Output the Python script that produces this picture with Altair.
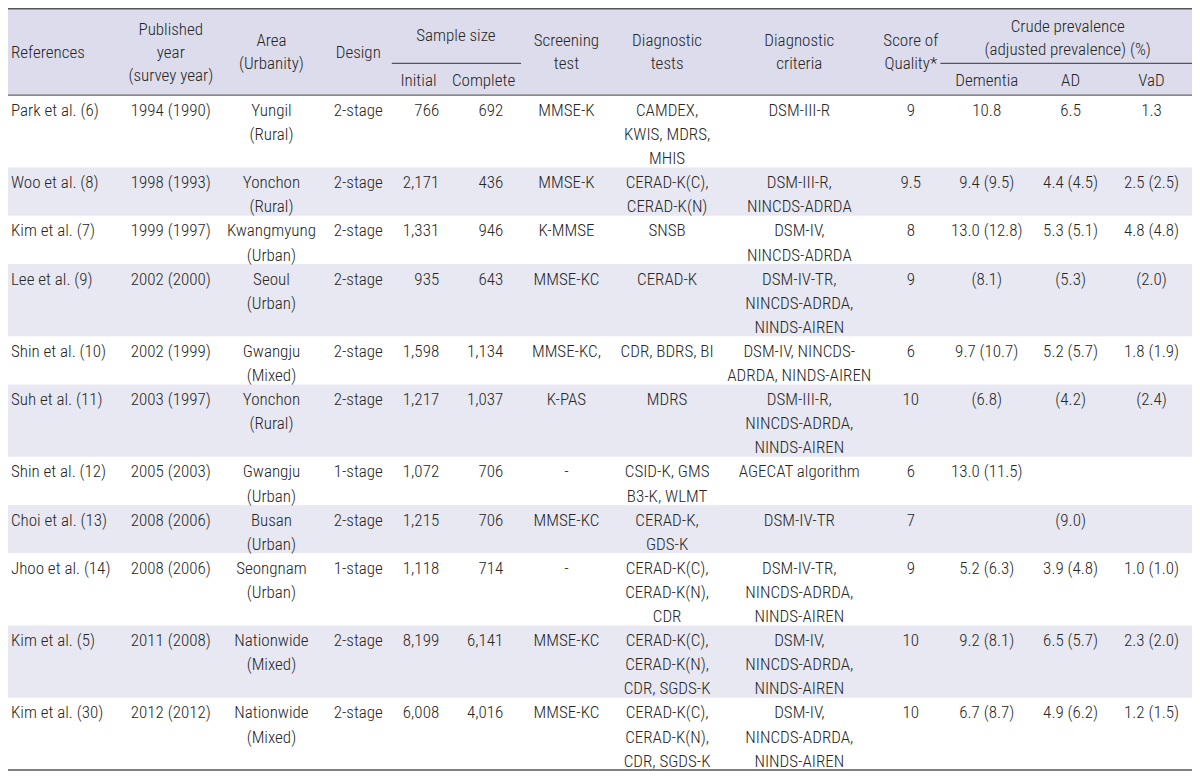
import altair as alt
import pandas as pd

# ---------------- data ----------------
references = ["Park et al. (6)", "Woo et al. (8)", "Kim et al. (7)", "Lee et al. (9)",
              "Shin et al. (10)", "Suh et al. (11)", "Shin et al. (12)", "Choi et al. (13)",
              "Jhoo et al. (14)", "Kim et al. (5)", "Kim et al. (30)"]
published = ["1994 (1990)", "1998 (1993)", "1999 (1997)", "2002 (2000)", "2002 (1999)",
             "2003 (1997)", "2005 (2003)", "2008 (2006)", "2008 (2006)", "2011 (2008)",
             "2012 (2012)"]
area = ["Yungil\n(Rural)", "Yonchon\n(Rural)", "Kwangmyung\n(Urban)", "Seoul\n(Urban)",
        "Gwangju\n(Mixed)", "Yonchon\n(Rural)", "Gwangju\n(Urban)", "Busan\n(Urban)",
        "Seongnam\n(Urban)", "Nationwide\n(Mixed)", "Nationwide\n(Mixed)"]
design = ["2-stage", "2-stage", "2-stage", "2-stage", "2-stage", "2-stage", "1-stage",
          "2-stage", "1-stage", "2-stage", "2-stage"]
initial = ["766", "2,171", "1,331", "935", "1,598", "1,217", "1,072", "1,215", "1,118",
           "8,199", "6,008"]
complete = ["692", "436", "946", "643", "1,134", "1,037", "706", "706", "714", "6,141",
            "4,016"]
screening = ["MMSE-K", "MMSE-K", "K-MMSE", "MMSE-KC", "MMSE-KC,", "K-PAS", "-", "MMSE-KC",
             "-", "MMSE-KC", "MMSE-KC"]
diag_tests = ["CAMDEX,\nKWIS, MDRS,\nMHIS", "CERAD-K(C),\nCERAD-K(N)", "SNSB", "CERAD-K",
              "CDR, BDRS, BI", "MDRS", "CSID-K, GMS\nB3-K, WLMT", "CERAD-K,\nGDS-K",
              "CERAD-K(C),\nCERAD-K(N),\nCDR", "CERAD-K(C),\nCERAD-K(N),\nCDR, SGDS-K",
              "CERAD-K(C),\nCERAD-K(N),\nCDR, SGDS-K"]
diag_criteria = ["DSM-III-R", "DSM-III-R,\nNINCDS-ADRDA", "DSM-IV,\nNINCDS-ADRDA",
                 "DSM-IV-TR,\nNINCDS-ADRDA,\nNINDS-AIREN",
                 "DSM-IV, NINCDS-\nADRDA, NINDS-AIREN",
                 "DSM-III-R,\nNINCDS-ADRDA,\nNINDS-AIREN", "AGECAT algorithm", "DSM-IV-TR",
                 "DSM-IV-TR,\nNINCDS-ADRDA,\nNINDS-AIREN",
                 "DSM-IV,\nNINCDS-ADRDA,\nNINDS-AIREN",
                 "DSM-IV,\nNINCDS-ADRDA,\nNINDS-AIREN"]
score = ["9", "9.5", "8", "9", "6", "10", "6", "7", "9", "10", "10"]
dementia = ["10.8", "9.4 (9.5)", "13.0 (12.8)", "(8.1)", "9.7 (10.7)", "(6.8)",
            "13.0 (11.5)", "", "5.2 (6.3)", "9.2 (8.1)", "6.7 (8.7)"]
ad = ["6.5", "4.4 (4.5)", "5.3 (5.1)", "(5.3)", "5.2 (5.7)", "(4.2)", "", "(9.0)",
      "3.9 (4.8)", "6.5 (5.7)", "4.9 (6.2)"]
vad = ["1.3", "2.5 (2.5)", "4.8 (4.8)", "(2.0)", "1.8 (1.9)", "(2.4)", "", "",
       "1.0 (1.0)", "2.3 (2.0)", "1.2 (1.5)"]

# header texts
header_cells = [
    ("References", 3, "left", 45),
    ("Published\nyear\n(survey year)", 165, "center", 21.5),
    ("Area\n(Urbanity)", 267, "center", 33),
    ("Design", 355, "center", 45),
    ("Sample size", 454, "center", 28),
    ("Initial", 416, "center", 73),
    ("Complete", 482, "center", 73),
    ("Screening\ntest", 566, "center", 33),
    ("Diagnostic\ntests", 668, "center", 33),
    ("Diagnostic\ncriteria", 802, "center", 33),
    ("Score of\nQuality*", 915, "center", 33),
    ("Crude prevalence\n(adjusted prevalence) (%)", 1074, "center", 18),
    ("Dementia", 992, "center", 73),
    ("AD", 1077, "center", 73),
    ("VaD", 1159, "center", 73),
]

# ---------------- layout ----------------
W, H = 1184, 764
SX, SY = W / 1200.0, H / 780.0
FONT = "'Roboto Condensed', 'Liberation Sans Narrow', 'Arial Narrow', sans-serif"
FS = 17.0
TXT = "#262626"
BASE_OFF = 6.2          # baseline below visual centre (table units)
HEADER_BOTTOM = 89
TABLE_BOTTOM = 778
HEAD_LH = 23.5

columns = [
    (references, 3, "left"),
    (published, 165, "center"),
    (area, 267, "center"),
    (design, 355, "center"),
    (initial, 437, "right"),
    (complete, 502, "right"),
    (screening, 566, "center"),
    (diag_tests, 668, "center"),
    (diag_criteria, 802, "center"),
    (score, 915, "center"),
    (dementia, 992, "center"),
    (ad, 1077, "center"),
    (vad, 1159, "center"),
]

n_rows = len(references)
lines = [max(col[0][i].count("\n") + 1 for col in columns) for i in range(n_rows)]
line_h = (TABLE_BOTTOM - HEADER_BOTTOM) / sum(lines)
tops = []
t = HEADER_BOTTOM
for n in lines:
    tops.append(t)
    t += n * line_h

cells = []
for vals, x, al in columns:
    for i, v in enumerate(vals):
        if v:
            cells.append({"x": x, "y": tops[i] + 15 + BASE_OFF, "text": v, "align": al})
for txt, x, al, yc in header_cells:
    cells.append({"x": x, "y": yc + BASE_OFF, "text": txt, "align": al + "_h"})
cells_df = pd.DataFrame(cells)

bg_rows = [{"x0": 0, "x1": 1200, "y0": 0, "y1": HEADER_BOTTOM, "fill": "#dcdcec"}]
for i in range(n_rows):
    if i % 2 == 1:
        bg_rows.append({"x0": 0, "x1": 1200, "y0": tops[i], "y1": tops[i] + lines[i] * line_h,
                        "fill": "#e8e8f3"})
bg_df = pd.DataFrame(bg_rows)

rules_df = pd.DataFrame([
    {"x": 0, "x2": 1200, "y": 0.8, "w": 1.6, "c": "#555555"},
    {"x": 0, "x2": 1200, "y": HEADER_BOTTOM, "w": 1.3, "c": "#666666"},
    {"x": 389, "x2": 520, "y": 56.5, "w": 1.1, "c": "#555555"},
    {"x": 945, "x2": 1200, "y": 56.5, "w": 1.1, "c": "#555555"},
    {"x": 0, "x2": 1200, "y": TABLE_BOTTOM, "w": 1.6, "c": "#555555"},
])

xs = alt.Scale(domain=[0, 1200], nice=False, zero=False)
ys = alt.Scale(domain=[0, 780], nice=False, zero=False, reverse=True)

bg = alt.Chart(bg_df).mark_rect().encode(
    x=alt.X("x0:Q", scale=xs, axis=None), x2="x1",
    y=alt.Y("y0:Q", scale=ys, axis=None), y2="y1",
    color=alt.Color("fill:N", scale=None),
)

rules = alt.Chart(rules_df).mark_rule().encode(
    x=alt.X("x:Q", scale=xs, axis=None), x2="x2",
    y=alt.Y("y:Q", scale=ys, axis=None),
    size=alt.Size("w:Q", scale=None),
    color=alt.Color("c:N", scale=None),
)


def text_layer(key, align, lh):
    return alt.Chart(cells_df).transform_filter(
        alt.datum.align == key
    ).mark_text(
        align=align, baseline="alphabetic", font=FONT, fontSize=FS, fontWeight=300,
        lineBreak="\n", lineHeight=lh * SY, color=TXT,
    ).encode(
        x=alt.X("x:Q", scale=xs, axis=None),
        y=alt.Y("y:Q", scale=ys, axis=None),
        text="text:N",
    )


layers = [bg, rules,
          text_layer("left", "left", line_h),
          text_layer("center", "center", line_h),
          text_layer("right", "right", line_h),
          text_layer("left_h", "left", HEAD_LH),
          text_layer("center_h", "center", HEAD_LH)]

chart = alt.layer(*layers).properties(
    width=W, height=H, padding=0, autosize="none", background="white"
).configure_view(stroke=None)

chart.save("out.html", embed_options={"renderer": "svg", "actions": False})
